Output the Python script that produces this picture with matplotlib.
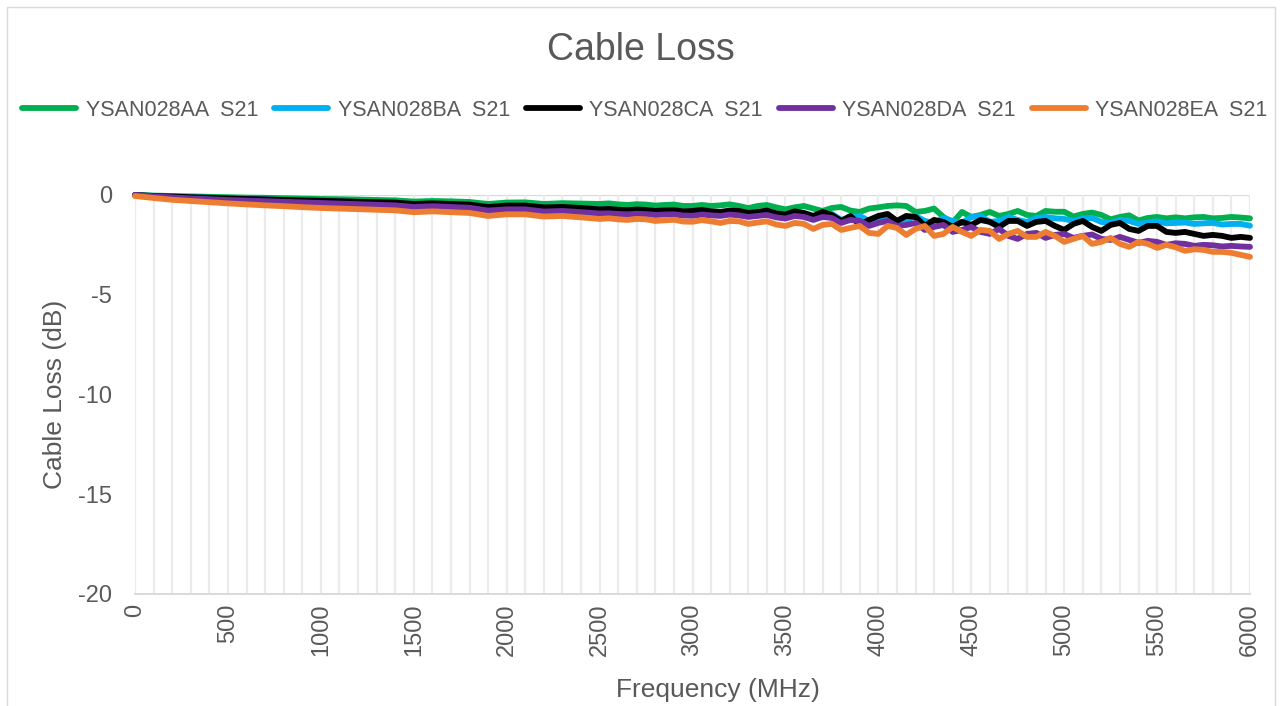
import numpy as np
import matplotlib
matplotlib.use("Agg")
from matplotlib import pyplot as plt
from matplotlib.patches import Rectangle

plt.rcParams['font.family'] = ['Liberation Sans', 'DejaVu Sans']
plt.rcParams['axes.unicode_minus'] = False

# frequency points (MHz): 100 MHz steps below 2500, 50 MHz steps above
freq = list(range(0, 2500, 100)) + list(range(2500, 6001, 50))

aa_low = [0, -0.03, -0.05, -0.07, -0.09, -0.11, -0.13, -0.14, -0.16, -0.18, -0.20, -0.21, -0.23,
          -0.25, -0.27, -0.33, -0.30, -0.32, -0.35, -0.45, -0.38, -0.37, -0.45, -0.41, -0.43]
aa_high = [-0.45, -0.42, -0.47, -0.50, -0.46, -0.48, -0.53, -0.50, -0.48, -0.55, -0.55, -0.50, -0.55,
           -0.52, -0.47, -0.55, -0.66, -0.55, -0.50, -0.62, -0.72, -0.62, -0.55, -0.68, -0.80, -0.65,
           -0.60, -0.78, -0.85, -0.68, -0.62, -0.55, -0.52, -0.55, -0.85, -0.80, -0.68, -1.10, -1.38,
           -0.85, -1.10, -1.00, -0.85, -1.05, -0.95, -0.80, -1.00, -1.05, -0.80, -0.84, -0.84, -1.08,
           -0.95, -0.88, -1.00, -1.22, -1.10, -1.02, -1.28, -1.15, -1.10, -1.17, -1.12, -1.17, -1.12,
           -1.10, -1.17, -1.15, -1.10, -1.13, -1.17]

ba_low = [0, -0.05, -0.08, -0.11, -0.14, -0.17, -0.20, -0.22, -0.25, -0.27, -0.30, -0.32, -0.35,
          -0.37, -0.40, -0.47, -0.44, -0.47, -0.50, -0.62, -0.55, -0.55, -0.65, -0.62, -0.67]
ba_high = [-0.74, -0.72, -0.76, -0.78, -0.76, -0.78, -0.83, -0.80, -0.78, -0.84, -0.82, -0.78, -0.85,
           -0.88, -0.82, -0.85, -0.95, -0.88, -0.82, -0.98, -1.05, -0.90, -0.92, -1.12, -1.00, -0.95,
           -1.25, -1.15, -1.05, -1.30, -1.20, -1.05, -1.30, -1.25, -1.05, -1.30, -1.40, -1.15, -1.30,
           -1.40, -1.10, -1.05, -1.35, -1.30, -1.10, -1.25, -1.35, -1.15, -1.10, -1.17, -1.20, -1.30,
           -1.17, -1.15, -1.35, -1.40, -1.25, -1.30, -1.45, -1.38, -1.32, -1.42, -1.40, -1.38, -1.45,
           -1.42, -1.40, -1.48, -1.45, -1.45, -1.54]

ca_low = [0, -0.05, -0.08, -0.11, -0.14, -0.17, -0.20, -0.22, -0.25, -0.27, -0.29, -0.31, -0.34,
          -0.36, -0.38, -0.45, -0.42, -0.45, -0.48, -0.60, -0.53, -0.53, -0.62, -0.60, -0.65]
ca_high = [-0.72, -0.70, -0.74, -0.76, -0.73, -0.75, -0.80, -0.77, -0.76, -0.82, -0.80, -0.75, -0.82,
           -0.85, -0.78, -0.80, -0.90, -0.85, -0.78, -0.92, -0.98, -0.82, -0.90, -1.05, -0.85, -1.00,
           -1.30, -1.05, -1.50, -1.25, -1.05, -0.95, -1.30, -1.05, -1.10, -1.55, -1.25, -1.35, -1.60,
           -1.35, -1.50, -1.25, -1.35, -1.60, -1.30, -1.30, -1.55, -1.35, -1.30, -1.55, -1.75, -1.45,
           -1.30, -1.60, -1.80, -1.50, -1.40, -1.70, -1.80, -1.55, -1.55, -1.85, -1.90, -1.85, -1.95,
           -2.05, -2.00, -2.05, -2.15, -2.10, -2.15]

da_low = [0, -0.07, -0.12, -0.17, -0.21, -0.25, -0.28, -0.31, -0.34, -0.37, -0.40, -0.43, -0.46,
          -0.49, -0.52, -0.60, -0.56, -0.60, -0.64, -0.78, -0.72, -0.72, -0.83, -0.80, -0.86]
da_high = [-0.93, -0.92, -0.95, -0.97, -0.94, -0.96, -1.00, -0.98, -0.97, -1.03, -1.04, -0.98, -1.02,
           -1.05, -0.98, -1.02, -1.10, -1.05, -1.00, -1.12, -1.18, -1.05, -1.10, -1.25, -1.10, -1.15,
           -1.40, -1.25, -1.30, -1.55, -1.40, -1.30, -1.55, -1.50, -1.40, -1.75, -1.60, -1.50, -1.85,
           -1.75, -1.60, -1.85, -1.95, -1.70, -2.05, -2.20, -1.95, -1.90, -2.15, -2.00, -1.95, -2.15,
           -2.05, -1.98, -2.20, -2.25, -2.10, -2.25, -2.40, -2.30, -2.35, -2.50, -2.42, -2.45, -2.55,
           -2.50, -2.52, -2.58, -2.55, -2.58, -2.60]

ea_low = [-0.05, -0.15, -0.24, -0.30, -0.36, -0.42, -0.47, -0.52, -0.56, -0.61, -0.65, -0.68, -0.71,
          -0.74, -0.77, -0.86, -0.82, -0.86, -0.90, -1.05, -0.97, -0.97, -1.08, -1.05, -1.12]
ea_high = [-1.20, -1.17, -1.22, -1.25, -1.20, -1.22, -1.30, -1.27, -1.24, -1.33, -1.34, -1.26, -1.32,
           -1.40, -1.30, -1.32, -1.45, -1.38, -1.32, -1.48, -1.55, -1.40, -1.45, -1.70, -1.50, -1.45,
           -1.75, -1.65, -1.55, -1.90, -1.95, -1.55, -1.65, -2.00, -1.70, -1.55, -2.05, -1.95, -1.60,
           -1.85, -2.05, -1.75, -1.80, -2.20, -1.95, -1.80, -2.10, -2.10, -1.85, -2.05, -2.35, -2.20,
           -2.05, -2.45, -2.35, -2.15, -2.45, -2.60, -2.35, -2.45, -2.65, -2.50, -2.62, -2.80, -2.72,
           -2.75, -2.85, -2.85, -2.90, -3.00, -3.10]

names = ["YSAN028AA  S21", "YSAN028BA  S21", "YSAN028CA  S21", "YSAN028DA  S21", "YSAN028EA  S21"]
colors = ["#00B050", "#00B0F0", "#000000", "#7030A0", "#ED7D31"]
series = [aa_low + aa_high, ba_low + ba_high, ca_low + ca_high, da_low + da_high, ea_low + ea_high]

txt = "#595959"

fig = plt.figure(figsize=(12.82, 7.06), dpi=100)
ax = fig.add_axes([135 / 1282, 1 - 594 / 706, 1115 / 1282, 399 / 706])

for name, c, s in zip(names, colors, series):
    ax.plot(freq, s, color=c, lw=4.2, label=name, clip_on=False,
            solid_capstyle='round', solid_joinstyle='round')

ax.set_xlim(0, 6000)
ax.set_ylim(-20, 0)
ax.set_xticks(np.arange(0, 6001, 500))
ax.set_xticks(np.arange(0, 6001, 100), minor=True)
ax.set_yticks([0, -5, -10, -15, -20])
ax.grid(True, which='both', axis='x', color='#ebebeb', lw=1.6)
ax.set_axisbelow(True)
ax.axhline(0, color='#d9d9d9', lw=1.6, zorder=0)

for sp in ['top', 'right', 'left']:
    ax.spines[sp].set_visible(False)
ax.spines['bottom'].set_color('#d9d9d9')
ax.spines['bottom'].set_linewidth(1.4)

ax.tick_params(axis='both', which='both', length=0, colors=txt, labelsize=17)
ax.tick_params(axis='x', pad=7, labelrotation=90)
ax.tick_params(axis='y', pad=16.5)

fig.text(718 / 1282, 1 - 690 / 706, "Frequency (MHz)", ha='center', va='center', fontsize=19, color=txt)
fig.text(55 / 1282, 1 - 394 / 706, "Cable Loss (dB)", ha='center', va='center', rotation=90,
         fontsize=19, color=txt)
fig.text(641 / 1282, 1 - 50 / 706, "Cable Loss", ha='center', va='center', fontsize=27, color=txt)

fig.legend(loc='center', bbox_to_anchor=(645 / 1282, 1 - 110 / 706), ncol=5, frameon=False,
           fontsize=15.5, labelcolor=txt, handlelength=2.5, handletextpad=0.45, columnspacing=0.74)

fig.patches.append(Rectangle((7 / 1282, -0.01), 1268 / 1282, 1.01 - 7 / 706, transform=fig.transFigure,
                             fill=False, edgecolor='#d9d9d9', lw=1))

fig.savefig("out.png", dpi=100)
